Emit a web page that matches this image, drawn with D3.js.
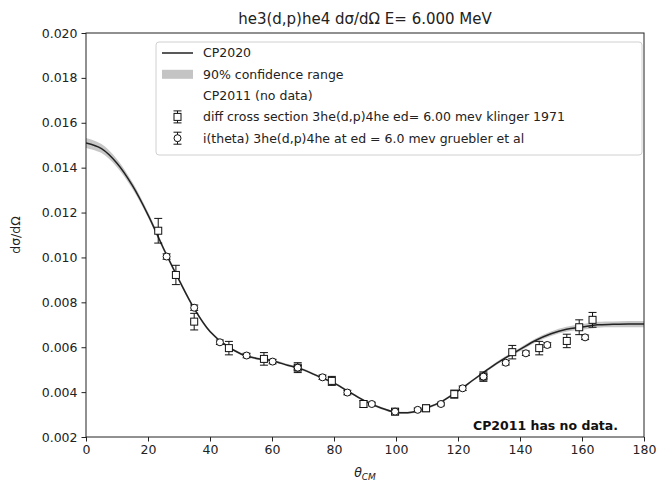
<!DOCTYPE html>
<html><head><meta charset="utf-8">
<script src="https://cdn.jsdelivr.net/npm/d3@7"></script>
<style>body{margin:0;background:#fff;}svg{display:block;font-family:"DejaVu Sans",sans-serif;}</style>
</head><body><svg id="c" width="660" height="485"></svg>
<script>
// CP2020 curve
const curveTheta = [0,5,10,15,20,25,30,35,40,45,50,55,60,65,70,75,80,85,90,95,100,105,110,115,120,125,130,135,140,145,150,155,160,165,170,175,180];
const curveVal   = [0.0151,0.01485,0.0142,0.0132,0.0119,0.0104,0.0090,0.0077,0.0067,0.0061,0.0057,0.0055,0.0054,0.0052,0.0050,0.0047,0.0044,0.0040,0.0036,0.0033,0.0031,0.0031,0.0033,0.0036,0.00405,0.00455,0.00505,0.0055,0.0059,0.0063,0.0066,0.0068,0.0069,0.0070,0.00702,0.00703,0.00703];
const bandHalf   = [0.00022,0.0002,0.00018,0.00015,0.00012,0.0001,0.00008,0.00007,0.00006,0.00005,0.00005,0.00005,0.00005,0.00005,0.00005,0.00005,0.00005,0.00005,0.00005,0.00005,0.00005,0.00005,0.00005,0.00005,0.00005,0.00005,0.00006,0.00007,0.00008,0.00009,0.0001,0.00011,0.00012,0.00013,0.00013,0.00014,0.00014];
// diff cross section 3he(d,p)4he ed= 6.00 mev klinger 1971
const sqTheta = [23.3,29.0,34.9,46.1,57.4,68.3,79.3,89.5,99.7,109.7,118.8,128.2,137.5,146.2,155.1,159.1,163.4];
const sqVal   = [0.01119,0.00922,0.00714,0.00596,0.00548,0.00509,0.0045,0.00347,0.00313,0.00328,0.00391,0.00469,0.00578,0.00596,0.00628,0.00689,0.00722];
const sqErr   = [0.00055,0.00043,0.00037,0.0003,0.00028,0.00022,0.0002,0.00015,0.00014,0.00015,0.00018,0.00021,0.0003,0.0003,0.0003,0.00033,0.00033];
// i(theta) 3he(d,p)4he at ed = 6.0 mev gruebler et al
const ciTheta = [26.0,34.9,43.2,51.8,60.2,68.3,76.3,84.3,92.2,99.7,107.0,114.5,121.5,128.2,135.4,141.9,148.8,161.0];
const ciVal   = [0.01004,0.00776,0.00622,0.00563,0.00536,0.00509,0.00466,0.00398,0.00347,0.00313,0.00321,0.00347,0.00417,0.00469,0.00531,0.00573,0.0061,0.00644];
const ciErr   = [0.00012,0.00012,0.0001,0.0001,0.0001,0.0001,0.0001,0.0001,0.00008,0.00008,0.00008,0.00008,0.0001,0.0001,0.0001,0.0001,0.0001,0.0001];
const xTicks = [0,20,40,60,80,100,120,140,160,180];
const yTicks = [0.002,0.004,0.006,0.008,0.010,0.012,0.014,0.016,0.018,0.020];
const legendLabels = ["CP2020","90% confidence range","CP2011 (no data)","diff cross section 3he(d,p)4he ed= 6.00 mev klinger 1971","i(theta) 3he(d,p)4he at ed = 6.0 mev gruebler et al"];

const L=86,R=644,T=33,B=437;
const svg=d3.select("#c");
const x=d3.scaleLinear().domain([0,180]).range([L,R]);
const y=d3.scaleLinear().domain([0.002,0.020]).range([B,T]);
const fs=12.5;

svg.append("defs").append("clipPath").attr("id","clip").append("rect").attr("x",L).attr("y",T).attr("width",R-L).attr("height",B-T);
const g=svg.append("g").attr("clip-path","url(#clip)");

const cd=curveTheta.map((t,i)=>({t,v:curveVal[i],h:bandHalf[i]}));
g.append("path").datum(cd).attr("fill","#bdbdbd").attr("fill-opacity",0.85)
 .attr("d",d3.area().x(d=>x(d.t)).y0(d=>y(d.v-d.h)).y1(d=>y(d.v+d.h)).curve(d3.curveCatmullRom));
g.append("path").datum(cd).attr("fill","none").attr("stroke","#222").attr("stroke-width",1.5)
 .attr("d",d3.line().x(d=>x(d.t)).y(d=>y(d.v)).curve(d3.curveCatmullRom));

function errs(th,va,er,cap){
  const dd=th.map((t,i)=>({t,v:va[i],e:er[i]}));
  const eg=g.append("g").attr("stroke","#111").attr("stroke-width",1);
  dd.forEach(d=>{
    const cx=x(d.t);
    eg.append("line").attr("x1",cx).attr("x2",cx).attr("y1",y(d.v-d.e)).attr("y2",y(d.v+d.e));
    eg.append("line").attr("x1",cx-cap).attr("x2",cx+cap).attr("y1",y(d.v-d.e)).attr("y2",y(d.v-d.e));
    eg.append("line").attr("x1",cx-cap).attr("x2",cx+cap).attr("y1",y(d.v+d.e)).attr("y2",y(d.v+d.e));
  });
  return dd;
}
const sq=errs(sqTheta,sqVal,sqErr,4);
g.selectAll(".sq").data(sq).join("rect").attr("x",d=>x(d.t)-3.5).attr("y",d=>y(d.v)-3.5).attr("width",7).attr("height",7)
 .attr("fill","#fff").attr("stroke","#111").attr("stroke-width",1);
const ci=errs(ciTheta,ciVal,ciErr,4);
g.selectAll(".ci").data(ci).join("circle").attr("cx",d=>x(d.t)).attr("cy",d=>y(d.v)).attr("r",3.5)
 .attr("fill","#fff").attr("stroke","#111").attr("stroke-width",1);

// axes
const xa=svg.append("g").attr("transform",`translate(0,${B})`).call(d3.axisBottom(x).tickValues(xTicks).tickSize(4.5).tickPadding(4).tickFormat(d3.format("d")));
const ya=svg.append("g").attr("transform",`translate(${L},0)`).call(d3.axisLeft(y).tickValues(yTicks).tickSize(4.5).tickPadding(4).tickFormat(d3.format(".3f")));
[xa,ya].forEach(a=>{a.select(".domain").remove();a.selectAll("text").attr("font-size",fs).attr("font-family","DejaVu Sans").attr("fill","#222");a.selectAll("line").attr("stroke","#222");});
svg.append("rect").attr("x",L).attr("y",T).attr("width",R-L).attr("height",B-T).attr("fill","none").attr("stroke","#222").attr("stroke-width",1);

// title & labels
svg.append("text").attr("x",(L+R)/2).attr("y",24).attr("text-anchor","middle").attr("font-size",15).attr("fill","#222").text("he3(d,p)he4 dσ/dΩ E= 6.000 MeV");
svg.append("text").attr("transform",`translate(20,${(T+B)/2}) rotate(-90)`).attr("text-anchor","middle").attr("font-size",fs).attr("fill","#222").text("dσ/dΩ");
const xl=svg.append("text").attr("x",(L+R)/2).attr("y",477).attr("text-anchor","middle").attr("font-size",fs).attr("fill","#222").attr("font-style","italic");
xl.append("tspan").text("θ");
xl.append("tspan").attr("font-size",9).attr("dy",3).text("CM");
svg.append("text").attr("x",618).attr("y",430).attr("text-anchor","end").attr("font-size",fs).attr("font-weight","bold").attr("fill","#111").text("CP2011 has no data.");

// legend
const lg=svg.append("g");
lg.append("rect").attr("x",156).attr("y",42).attr("width",486).attr("height",113).attr("rx",3).attr("fill","#fff").attr("fill-opacity",0.8).attr("stroke","#d0d0d0");
const rowY=i=>53+i*21.3;
lg.append("line").attr("x1",162).attr("x2",193).attr("y1",rowY(0)).attr("y2",rowY(0)).attr("stroke","#222").attr("stroke-width",1.5);
lg.append("rect").attr("x",162).attr("y",rowY(1)-4.5).attr("width",31).attr("height",9).attr("fill","#c4c4c4");
function legErr(i,shape){
  const cx=177.5,cy=rowY(i);
  lg.append("line").attr("x1",cx).attr("x2",cx).attr("y1",cy-6).attr("y2",cy+6).attr("stroke","#111");
  lg.append("line").attr("x1",cx-4).attr("x2",cx+4).attr("y1",cy-6).attr("y2",cy-6).attr("stroke","#111");
  lg.append("line").attr("x1",cx-4).attr("x2",cx+4).attr("y1",cy+6).attr("y2",cy+6).attr("stroke","#111");
  if(shape==="sq") lg.append("rect").attr("x",cx-3.5).attr("y",cy-3.5).attr("width",7).attr("height",7).attr("fill","#fff").attr("stroke","#111");
  else lg.append("circle").attr("cx",cx).attr("cy",cy).attr("r",3.5).attr("fill","#fff").attr("stroke","#111");
}
legErr(3,"sq");legErr(4,"ci");
legendLabels.forEach((t,i)=>lg.append("text").attr("x",203).attr("y",rowY(i)).attr("dy","0.35em").attr("font-size",fs).attr("fill","#222").text(t));
</script></body></html>
